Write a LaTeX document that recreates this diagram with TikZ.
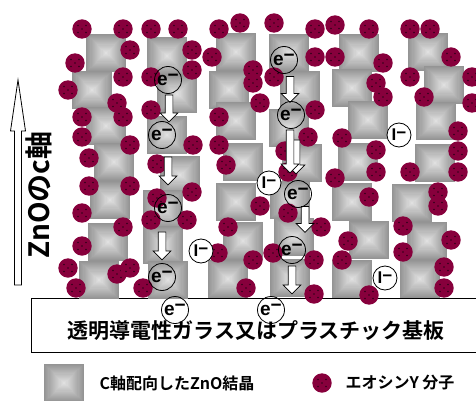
\documentclass[tikz,border=0pt]{standalone}
\usepackage{fontspec}
\usetikzlibrary{shapes.arrows}
\newfontfamily\latfont{Liberation Sans}
\newfontfamily\jpfont{Noto Sans CJK JP Bold}
\definecolor{dyered}{RGB}{135,0,60}
\definecolor{dyespeck}{RGB}{50,0,25}

\begin{document}
\begin{tikzpicture}[
  x=1pt, y=-1pt,
  electron/.style={circle, draw, line width=0.8pt, minimum size=27pt, inner sep=0pt, font=\latfont\bfseries\fontsize{19}{19}\selectfont},
  iodide/.style={circle, draw, fill=white, line width=0.8pt, minimum size=24pt, inner sep=0pt, font=\latfont\bfseries\fontsize{17}{17}\selectfont},
  hop/.style={single arrow, draw, fill=white, line width=0.7pt, rotate=-90, inner sep=3.5pt, minimum width=0pt, single arrow head extend=5pt, single arrow tip angle=90},
  label_jp/.style={font=\jpfont\fontsize{16}{16}\selectfont, anchor=west},
  pics/crystal/.style={code={
    \foreach \k in {0,...,17}{
      \pgfmathsetmacro\g{42-1.75*\k}
      \fill[black!\g] (-20+1.1*\k,-19+1.05*\k) rectangle (20-1.1*\k,19-1.05*\k);
    }
  }},
  pics/dye/.style={code={
    \fill[dyered] (0,0) circle (9.7);
    \foreach \p in {(-4,-3.5),(4,-3.5),(0,0),(-4,3.5),(4,3.5)} \fill[dyespeck] \p circle (0.9);
  }}
]
\useasboundingbox (0,0) rectangle (476,401);

% substrate
\draw[fill=white, line width=0.8pt] (31,298) rectangle (482,352);

% ZnO columns
\foreach \x/\y in {106/53, 92/90, 106/126, 114/162, 110/200, 108/242, 99/280,
                   167/56, 177/94, 167/135, 180/175, 163/209, 163/245, 168/280,
                   236/52, 229/90, 236/121, 243/162, 236/202, 243/241, 228/279,
                   289/53, 300/90, 289/128, 302/163, 290/200, 294/237, 290/278,
                   359/53, 352/88, 368/120, 358/162, 352/202, 369/240, 352/279,
                   428/52, 444/85, 436/121, 435/163, 412/203, 427/241, 420/279}
  \pic at (\x,\y) {crystal};

% dye molecules
\foreach \x/\y in {82/29, 123/29, 151/29, 178/29, 219/29, 240/23, 274/23, 315/29, 335/25, 369/29, 410/29, 430/29,
                   130/50, 192/50, 212/57, 75/63, 315/57, 335/57, 383/63, 451/57,
                   192/70, 123/77, 151/77, 68/90, 253/70, 253/83, 274/77, 376/83, 410/77, 472/77,
                   383/97, 424/97, 472/103, 117/103, 151/110, 260/103, 315/110, 123/117, 82/117, 219/117,
                   82/137, 130/145, 193/145, 219/145, 308/137, 342/138, 458/131, 376/150, 458/151, 285/151,
                   89/158, 157/164, 226/165, 376/172, 410/172, 458/172, 335/178, 288/172, 89/186, 130/186,
                   192/192, 157/198, 369/197, 438/192, 438/206, 260/206,
                   82/213, 123/227, 151/220, 187/220, 228/227, 288/213, 321/227, 403/226,
                   82/246, 218/253, 348/241, 451/240, 253/260, 273/253, 314/260, 342/260, 403/252, 444/267,
                   68/268, 117/274, 130/268,
                   76/288, 143/288, 246/288, 314/294, 369/295, 444/288}
  \pic at (\x,\y) {dye};

% electron hops
\node[hop, minimum height=27pt] (a1) at (169,106.5) {};
\node[hop, minimum height=28pt] (a2) at (168,169) {};
\node[hop, minimum height=28pt] (a3) at (162,244) {};
\node[hop, minimum height=26pt] (a4) at (290,87.5) {};
\node[hop, minimum height=34pt] (a5b) at (296,155) {};
\node[hop, minimum height=43pt] (a5) at (290,149.5) {};
\node[hop, minimum height=26pt] (a6) at (305,217.5) {};
\node[hop, minimum height=28pt] (a7) at (292,278) {};

% electrons
\node[electron] (e1) at (168,80) {e\raisebox{.25em}{−}};
\node[electron] (e2) at (162,135) {e\raisebox{.25em}{−}};
\node[electron] (e3) at (168,208) {e\raisebox{.25em}{−}};
\node[electron] (e4) at (162,277) {e\raisebox{.25em}{−}};
\node[electron] (e5) at (284,60) {e\raisebox{.25em}{−}};
\node[electron] (e6) at (291,115) {e\raisebox{.25em}{−}};
\node[electron] (e7) at (298,194) {e\raisebox{.25em}{−}};
\node[electron] (e8) at (292,250) {e\raisebox{.25em}{−}};
\node[electron] (s1) at (175,310) {e\raisebox{.25em}{−}};
\node[electron] (s2) at (271,310) {e\raisebox{.25em}{−}};

% iodide ions
\node[iodide] (i1) at (399,135) {I\raisebox{.12em}{−}};
\node[iodide] (i2) at (269,183) {I\raisebox{.12em}{−}};
\node[iodide] (i3) at (201,251) {I\raisebox{.12em}{−}};
\node[iodide] (i4) at (385,278) {I\raisebox{.12em}{−}};

\node[font=\jpfont\fontsize{21}{21}\selectfont] (glass) at (256,331) {透明導電性ガラス又はプラスチック基板};

% c axis
\draw[fill=white, line width=0.8pt] (14.5,285) -- (14.5,131) -- (10.5,131) -- (18,80) -- (25.5,131) -- (21.5,131) -- (21.5,285) -- cycle;
\node[rotate=90, font=\jpfont\fontsize{28}{28}\selectfont] (caxis) at (38.5,195) {ZnOのc軸};

% legend
\pic at (64,383) {crystal};
\node[label_jp] (lcrystal) at (96,383) {C軸配向したZnO結晶};
\pic at (322,383) {dye};
\node[label_jp] (ldye) at (342,383) {エオシンY 分子};

\end{tikzpicture}
\end{document}
